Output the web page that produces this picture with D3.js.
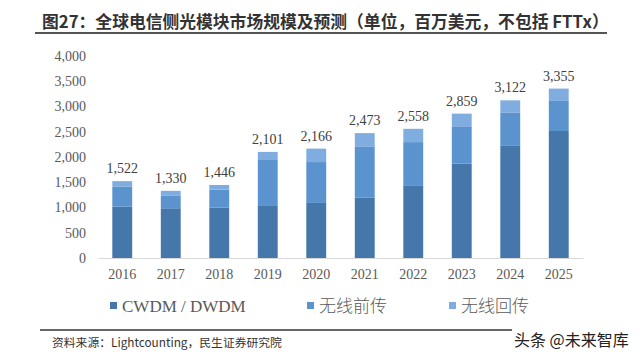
<!DOCTYPE html>
<html><head><meta charset="utf-8">
<script src="https://cdn.jsdelivr.net/npm/d3@7"></script>
<style>body{margin:0;background:#fff}svg{display:block}</style>
</head><body>
<svg id="c" width="640" height="357"></svg>
<script>
const years = ["2016","2017","2018","2019","2020","2021","2022","2023","2024","2025"];
const cwdm  = [1015, 985, 995, 1045, 1090, 1200, 1440, 1870, 2220, 2515];
const front = [395, 255, 360, 910, 810, 1000, 855, 725, 655, 595];
const back  = [112, 90, 91, 146, 266, 273, 263, 264, 247, 245];
const totals = [1522, 1330, 1446, 2101, 2166, 2473, 2558, 2859, 3122, 3355];
const seriesNames = ["CWDM / DWDM", "无线前传", "无线回传"];
const yTicks = [0,500,1000,1500,2000,2500,3000,3500,4000];
const colors = ["#4677ab", "#5b93cf", "#80ade0"];

const svg = d3.select("#c");
const x = d3.scaleBand().domain(years).range([98, 583]).paddingInner(0.59).paddingOuter(0.295);
const y = d3.scaleLinear().domain([0, 4000]).range([258, 56]);

// title
svg.append("text").attr("x", 42).attr("y", 28)
  .attr("font-family", "'Noto Sans CJK SC', sans-serif").attr("font-weight", "bold")
  .attr("font-size", 16.8).attr("fill", "#333")
  .text("图27：全球电信侧光模块市场规模及预测（单位，百万美元，不包括 FTTx）");
svg.append("line").attr("x1", 35).attr("x2", 607).attr("y1", 33).attr("y2", 33)
  .attr("stroke", "#555").attr("stroke-width", 2);

// y axis labels
const yAxis = d3.axisLeft(y).tickValues(yTicks).tickSize(0).tickPadding(0).tickFormat(d3.format(","));
const ya = svg.append("g").attr("transform", "translate(86,0)").call(yAxis);
ya.select(".domain").remove();
ya.selectAll("text").attr("font-family", "'Liberation Serif', serif").attr("font-size", 14).attr("fill", "#595959");

// x axis
const xAxis = d3.axisBottom(x).tickSize(0).tickPadding(11);
const xa = svg.append("g").attr("transform", "translate(0,258)").call(xAxis);
xa.select(".domain").attr("stroke", "#d9d9d9");
xa.selectAll("text").attr("font-family", "'Liberation Serif', serif").attr("font-size", 14).attr("fill", "#595959");

// stacked bars
const rows = years.map((yr, i) => ({year: yr, a: cwdm[i], b: front[i], c: back[i]}));
const stack = d3.stack().keys(["a","b","c"])(rows);
svg.append("g").selectAll("g").data(stack).join("g").attr("fill", (d, i) => colors[i])
  .selectAll("rect").data(d => d).join("rect")
  .attr("x", d => x(d.data.year)).attr("width", x.bandwidth())
  .attr("y", d => y(d[1])).attr("height", d => y(d[0]) - y(d[1]));

// totals
svg.append("g").selectAll("text").data(years).join("text")
  .attr("x", d => x(d) + x.bandwidth()/2).attr("y", (d, i) => y(totals[i]) - 8)
  .attr("text-anchor", "middle").attr("font-family", "'Liberation Serif', serif")
  .attr("font-size", 14).attr("fill", "#404040").text((d, i) => d3.format(",")(totals[i]));

// legend
const legX = [110, 307, 449];
const lg = svg.append("g").selectAll("g").data(seriesNames).join("g")
  .attr("transform", (d, i) => `translate(${legX[i]},306)`);
lg.append("rect").attr("x", 0).attr("y", -4).attr("width", 7).attr("height", 7).attr("fill", (d, i) => colors[i]);
lg.append("text").attr("x", 12).attr("y", 0).attr("dy", "0.35em")
  .style("font-family", (d, i) => i === 0 ? "'Liberation Serif', serif" : "'Noto Sans CJK SC', sans-serif")
  .attr("font-weight", (d, i) => i === 0 ? "normal" : 300)
  .attr("font-size", 17).attr("fill", "#595959").text(d => d);

// footer
svg.append("line").attr("x1", 40).attr("x2", 512).attr("y1", 330).attr("y2", 330)
  .attr("stroke", "#333").attr("stroke-width", 1.5);
svg.append("text").attr("x", 52).attr("y", 347)
  .attr("font-family", "'Noto Sans CJK SC', sans-serif").attr("font-size", 11.8).attr("fill", "#333")
  .text("资料来源：Lightcounting，民生证券研究院");
svg.append("text").attr("x", 514).attr("y", 346)
  .attr("font-family", "'Noto Sans CJK SC', sans-serif").attr("font-size", 16).attr("fill", "#222")
  .text("头条 @未来智库");
</script>
</body></html>
